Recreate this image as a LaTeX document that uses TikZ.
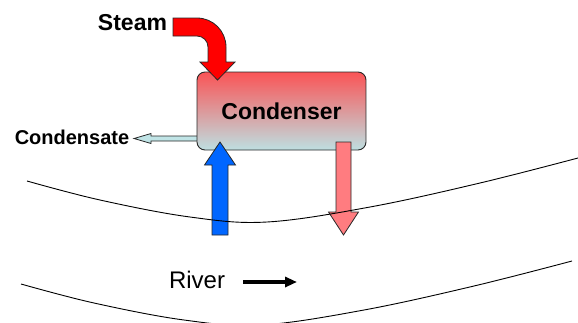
\documentclass[tikz,border=0pt]{standalone}
\usepackage{fontspec}
\setmainfont{Liberation Sans}
\usetikzlibrary{arrows.meta}

\definecolor{steamred}{RGB}{255,0,0}
\definecolor{coldblue}{RGB}{0,102,255}
\definecolor{warmpink}{RGB}{255,124,128}
\definecolor{drainblue}{RGB}{192,228,230}
\definecolor{condtop}{RGB}{250,84,86}
\definecolor{condbottom}{RGB}{190,223,225}
\definecolor{edgegray}{RGB}{40,40,40}

\tikzset{
  blockarrow/.style={draw=edgegray,line width=0.8pt,line join=miter},
  bank/.style={draw=black,line width=0.9pt},
  lbl/.style={inner sep=0pt,anchor=base}
}

\begin{document}
\begin{tikzpicture}[x=1pt,y=-1pt]
  \useasboundingbox (0,0) rectangle (578,322);
  \clip (0,0) rectangle (578,322);

  % condensate out
  \draw[blockarrow,fill=drainblue] (198,136) -- (151,136) -- (151,133.5) -- (134,138.5)
    -- (151,143.5) -- (151,141) -- (198,141) -- cycle;

  % condenser
  \node[draw=edgegray,line width=0.9pt,rounded corners=8pt,
    top color=condtop,bottom color=condbottom,
    minimum width=169pt,minimum height=78pt,
    font=\fontsize{23}{27}\selectfont\bfseries] (condenser) at (281.5,111) {Condenser};

  % steam in
  \draw[blockarrow,fill=steamred] (173,18) -- (197,18) arc[start angle=-90,end angle=0,radius=29]
    -- (226,62) -- (235,62) -- (217.5,80) -- (200,62) -- (208,62) -- (208,47)
    arc[start angle=0,end angle=-90,radius=11] -- (173,36) -- cycle;

  % cooling water in / out
  \draw[blockarrow,fill=coldblue] (212,235) -- (212,165) -- (204.5,165) -- (220,142)
    -- (235.5,165) -- (228,165) -- (228,235) -- cycle;
  \draw[blockarrow,fill=warmpink] (336,142) -- (336,212) -- (328.5,212) -- (343.5,235)
    -- (358.5,212) -- (351,212) -- (351,142) -- cycle;

  % river banks
  \foreach \bx/\by in {0/0,-6/103}
    \draw[bank,shift={(\bx,\by)}] plot[smooth,tension=0.6] coordinates
      {(27,181) (100,200) (190,217) (267,222) (370,207) (480,183) (578,158)};

  % labels
  \node[lbl,font=\fontsize{23}{27}\selectfont\bfseries] (steam) at (132.5,30) {Steam};
  \node[lbl,font=\fontsize{20}{24}\selectfont\bfseries] (condensate) at (72,144) {Condensate};
  \node[lbl,font=\fontsize{24}{28}\selectfont] (river) at (197,288) {River};

  \coordinate (flowstart) at (243,282);
  \coordinate (flowend) at (297,282);
  \draw[line width=3.5pt,-{Triangle[length=12pt,width=10pt]}] (flowstart) -- (flowend);
\end{tikzpicture}
\end{document}
